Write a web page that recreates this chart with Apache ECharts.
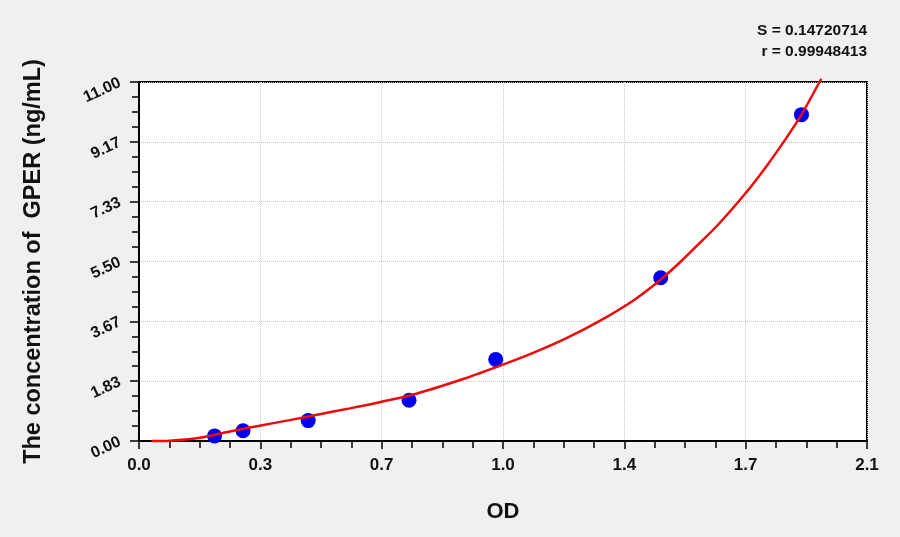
<!DOCTYPE html>
<html>
<head>
<meta charset="utf-8">
<script src="https://cdn.jsdelivr.net/npm/echarts@6/dist/echarts.min.js"></script>
<style>
  html, body { margin: 0; padding: 0; background: #f0f0f0; }
  #container { width: 900px; height: 537px; }
</style>
</head>
<body>
<div id="container"></div>
<script>
// standard points (OD, concentration)
var stdOD = [0.218, 0.300, 0.488, 0.779, 1.029, 1.505, 1.911];
var stdConc = [0.156, 0.3125, 0.625, 1.25, 2.5, 5, 10];

// fitted curve
var curveOD = [0.036, 0.089, 0.175, 0.262, 0.348, 0.435, 0.521, 0.608, 0.694, 0.800, 0.944, 1.040, 1.137, 1.233, 1.329, 1.425, 1.502, 1.560, 1.617, 1.675, 1.752, 1.810, 1.867, 1.911, 1.968];
var curveConc = [0.0, 0.01, 0.10, 0.29, 0.47, 0.64, 0.82, 1.00, 1.19, 1.45, 1.93, 2.30, 2.70, 3.15, 3.68, 4.30, 4.92, 5.47, 6.06, 6.68, 7.62, 8.42, 9.28, 10.0, 11.1];

var xTickLabels = ['0.0', '0.3', '0.7', '1.0', '1.4', '1.7', '2.1'];
var yTickLabels = ['0.00', '1.83', '3.67', '5.50', '7.33', '9.17', '11.00'];

var statS = 'S = 0.14720714';
var statR = 'r = 0.99948413';

var xStep = 0.35;
var yStep = 11 / 6;

var dom = document.getElementById("container");
var myChart = echarts.init(dom);

var stdData = [];
for (var i = 0; i < stdOD.length; i++) {
    stdData.push([stdOD[i], stdConc[i]]);
}
var curveData = [];
for (var j = 0; j < curveOD.length; j++) {
    curveData.push([curveOD[j], curveConc[j]]);
}

var fontFam = 'Liberation Sans, Arial, sans-serif';

var option = {
    backgroundColor: '#f0f0f0',
    animation: false,
    grid: {
        left: 139,
        top: 82,
        right: 33,
        bottom: 96,
        show: true,
        backgroundColor: '#ffffff',
        borderColor: '#000',
        borderWidth: 2
    },
    graphic: [
        {
            type: 'text', right: 33, top: 23,
            style: { text: statS, font: 'bold 15.5px ' + fontFam, fill: '#111', textAlign: 'right' }
        },
        {
            type: 'text', right: 33, top: 44,
            style: { text: statR, font: 'bold 15.5px ' + fontFam, fill: '#111', textAlign: 'right' }
        }
    ],
    xAxis: {
        type: 'value',
        min: 0,
        max: 2.1,
        interval: xStep,
        name: 'OD',
        nameLocation: 'middle',
        nameGap: 60,
        nameTextStyle: { fontSize: 22, fontWeight: 'bold', color: '#111', fontFamily: fontFam },
        axisLine: { onZero: false, lineStyle: { color: '#000', width: 2 } },
        axisTick: { show: true, inside: false, length: 8, lineStyle: { color: '#000', width: 1.5 } },
        minorTick: { show: true, splitNumber: 4, length: 7, lineStyle: { color: '#000', width: 1.5 } },
        axisLabel: {
            margin: 16,
            fontSize: 17,
            fontWeight: 'bold',
            color: '#111',
            fontFamily: fontFam,
            formatter: function (v) { return xTickLabels[Math.round(v / xStep)]; }
        },
        splitLine: { show: true, lineStyle: { color: '#c8c8c8', type: 'dotted', width: 1 } }
    },
    yAxis: {
        type: 'value',
        min: 0,
        max: 11,
        interval: yStep,
        name: 'The concentration of  GPER (ng/mL)',
        nameLocation: 'middle',
        nameGap: 93,
        nameTextStyle: { fontSize: 23.5, fontWeight: 'bold', color: '#111', fontFamily: fontFam },
        axisLine: { onZero: false, lineStyle: { color: '#000', width: 2 } },
        axisTick: { show: true, inside: false, length: 9, lineStyle: { color: '#000', width: 1.5 } },
        minorTick: { show: true, splitNumber: 4, length: 7, lineStyle: { color: '#000', width: 1.5 } },
        axisLabel: {
            margin: 19,
            rotate: 25,
            fontSize: 16,
            fontWeight: 'bold',
            color: '#111',
            fontFamily: fontFam,
            formatter: function (v) { return yTickLabels[Math.round(v / yStep)]; }
        },
        splitLine: { show: true, lineStyle: { color: '#c8c8c8', type: 'dotted', width: 1 } }
    },
    series: [
        {
            name: 'standard',
            type: 'scatter',
            symbol: 'circle',
            symbolSize: 15,
            itemStyle: { color: '#0000f0', opacity: 1 },
            data: stdData,
            z: 2
        },
        {
            name: 'fit',
            type: 'line',
            smooth: 0.3,
            showSymbol: false,
            clip: false,
            lineStyle: { color: '#ee0a0a', width: 2.5 },
            data: curveData,
            z: 3
        }
    ]
};

if (option && typeof option === "object") {
    myChart.setOption(option, true);
}
</script>
</body>
</html>
